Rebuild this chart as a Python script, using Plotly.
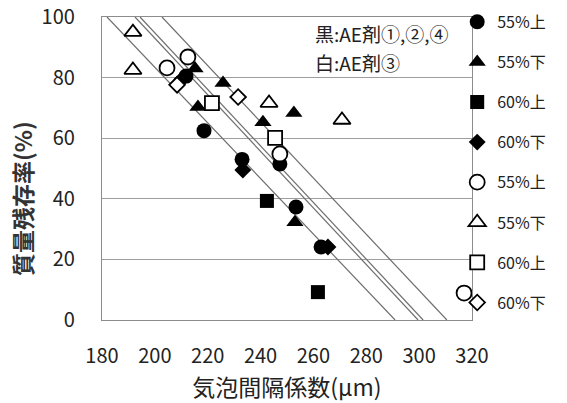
import plotly.graph_objects as go

# ---- data ----
blk_c55u_x = [211.8, 218.6, 233.0, 247.3, 253.4, 262.9]
blk_c55u_y = [80.5, 62.5, 53.0, 51.5, 37.3, 24.1]
blk_t55d_x = [215.2, 216.3, 225.8, 240.9, 252.6, 253.0]
blk_t55d_y = [83.0, 70.3, 78.2, 65.3, 68.3, 32.3]
blk_s60u_x = [242.4, 261.7]
blk_s60u_y = [39.3, 9.2]
blk_d60d_x = [210.3, 233.3, 265.5]
blk_d60d_y = [79.5, 49.5, 24.1]
wht_c55u_x = [204.6, 212.5, 247.3, 317.0]
wht_c55u_y = [83.2, 86.8, 54.8, 8.9]
wht_t55d_x = [191.7, 191.7, 243.2, 270.8]
wht_t55d_y = [95.0, 82.5, 71.6, 66.0]
wht_s60u_x = [221.6, 245.5]
wht_s60u_y = [71.6, 60.1]
wht_d60d_x = [208.4, 231.5]
wht_d60d_y = [77.6, 73.6]

# four reference lines: x where each crosses y=100 and y=0
line_x_top = [181.9, 192.5, 194.4, 202.7]
line_x_bot = [290.9, 299.6, 301.5, 310.5]
line_y = [100, 0]

x_ticks = [180, 200, 220, 240, 260, 280, 300, 320]
y_ticks = [0, 20, 40, 60, 80, 100]

series = [
    ("55%上", blk_c55u_x, blk_c55u_y, "circle", True, 15),
    ("55%下", blk_t55d_x, blk_t55d_y, "triangle-up", True, 15),
    ("60%上", blk_s60u_x, blk_s60u_y, "square", True, 14),
    ("60%下", blk_d60d_x, blk_d60d_y, "diamond", True, 13),
    ("55%上", wht_c55u_x, wht_c55u_y, "circle", False, 15),
    ("55%下", wht_t55d_x, wht_t55d_y, "triangle-up", False, 15),
    ("60%上", wht_s60u_x, wht_s60u_y, "square", False, 14),
    ("60%下", wht_d60d_x, wht_d60d_y, "diamond", False, 12),
]

FONT = "Noto Sans CJK JP"
fig = go.Figure()

for xt, xb in zip(line_x_top, line_x_bot):
    fig.add_trace(go.Scatter(x=[xt, xb], y=line_y, mode="lines",
                             line=dict(color="#6e6e6e", width=1.2),
                             showlegend=False, hoverinfo="skip"))

for i, (name, xs, ys, sym, filled, sz) in enumerate(series):
    fig.add_trace(go.Scatter(
        x=xs, y=ys, mode="markers", name=name, legendgroup=f"g{i}",
        marker=dict(symbol=sym, size=sz,
                    color="black" if filled else "white",
                    line=dict(color="black", width=0 if filled else 1.8)),
    ))

fig.add_annotation(text="黒:AE剤①,②,④", x=0.57, y=0.947, xref="paper", yref="paper",
                   xanchor="left", yanchor="middle", showarrow=False,
                   font=dict(family=FONT, size=19, color="#222"))
fig.add_annotation(text="白:AE剤③", x=0.57, y=0.851, xref="paper", yref="paper",
                   xanchor="left", yanchor="middle", showarrow=False,
                   font=dict(family=FONT, size=19, color="#222"))
fig.add_annotation(text="<b>質量残存率(%)</b>", x=-0.216, y=0.40, xref="paper", yref="paper",
                   textangle=-90, xanchor="center", yanchor="middle", showarrow=False,
                   font=dict(family=FONT, size=23, color="#333"))

fig.update_layout(
    width=567, height=403,
    margin=dict(l=102, r=95, t=17, b=83, autoexpand=False),
    paper_bgcolor="white", plot_bgcolor="white",
    font=dict(family=FONT, color="#222"),
    legend=dict(x=0.96, y=1.04, xanchor="left", yanchor="top",
                font=dict(family=FONT, size=16, color="#222"),
                tracegroupgap=16.3, bgcolor="rgba(0,0,0,0)", itemwidth=30,
                maxheight=400),
    xaxis=dict(range=[180, 320], tickvals=x_ticks, showgrid=False, zeroline=False,
               showline=True, linecolor="#8c8c8c", linewidth=1.2, mirror=True,
               ticks="", ticklabelstandoff=18,
               tickfont=dict(family=FONT, size=20, color="#222"),
               title=dict(text="気泡間隔係数(μm)", standoff=2,
                          font=dict(family=FONT, size=23, color="#222"))),
    yaxis=dict(range=[0, 100], tickvals=y_ticks, showgrid=True, gridcolor="#9e9e9e",
               gridwidth=1, zeroline=False, showline=True, linecolor="#8c8c8c",
               linewidth=1.2, mirror=True, ticks="", ticklabelstandoff=22,
               tickfont=dict(family=FONT, size=20, color="#222")),
)

fig.write_html("out.html", config={"displayModeBar": False},
               post_script="document.body.style.margin='0';")
